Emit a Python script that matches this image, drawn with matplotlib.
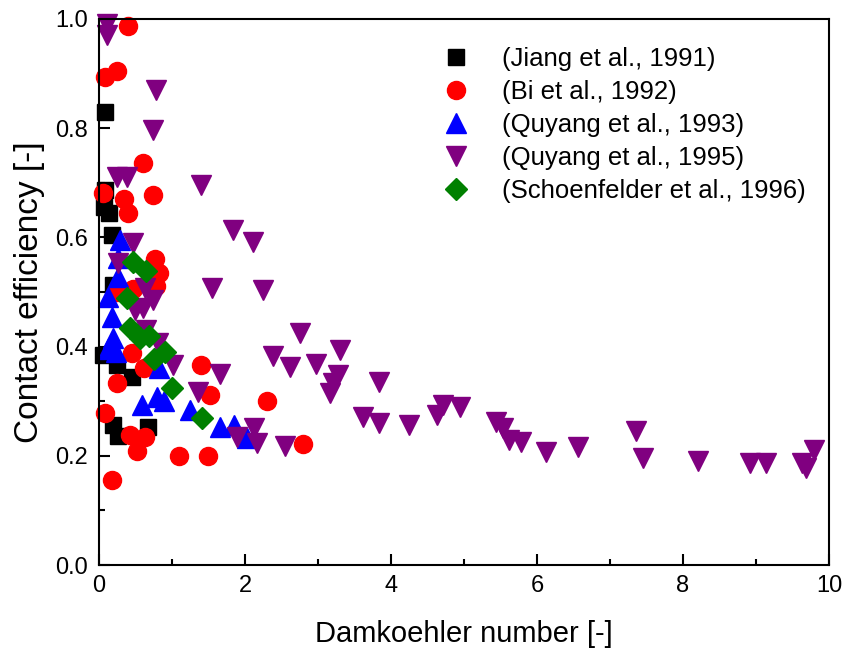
import matplotlib.pyplot as plt
from matplotlib.ticker import MultipleLocator

plt.rcParams['font.family'] = ['Liberation Sans', 'DejaVu Sans']

# Jiang et al., 1991
jiang_x = [0.08, 0.08, 0.07, 0.14, 0.18, 0.19, 0.05, 0.25, 0.45, 0.19, 0.26, 0.67]
jiang_y = [0.830, 0.687, 0.655, 0.645, 0.604, 0.513, 0.385, 0.366, 0.345, 0.256, 0.236, 0.253]

# Bi et al., 1992
bi_x = [0.40, 0.25, 0.08, 0.60, 0.06, 0.34, 0.74, 0.40, 0.77, 0.82, 0.78, 0.47, 0.25, 0.45,
        0.62, 1.40, 0.25, 1.52, 2.30, 0.08, 0.42, 0.63, 0.52, 1.10, 1.49, 2.79, 0.18]
bi_y = [0.987, 0.905, 0.893, 0.736, 0.681, 0.670, 0.677, 0.645, 0.560, 0.535, 0.510, 0.505, 0.500, 0.388,
        0.360, 0.366, 0.333, 0.311, 0.301, 0.278, 0.238, 0.234, 0.208, 0.199, 0.199, 0.222, 0.155]

# Quyang et al., 1993
q93_x = [0.29, 0.26, 0.26, 0.12, 0.18, 0.19, 0.12, 0.23, 0.82, 0.59, 0.80, 0.89, 1.25, 1.66, 1.85, 2.03]
q93_y = [0.595, 0.562, 0.527, 0.490, 0.454, 0.415, 0.395, 0.390, 0.360, 0.293, 0.308, 0.300, 0.284, 0.253, 0.256, 0.233]

# Quyang et al., 1995
q95_x = [0.11, 0.11, 0.78, 0.74, 0.24, 0.38, 1.40, 1.84, 2.11, 0.46, 0.26, 0.63, 1.55, 2.25,
         0.74, 0.60, 0.49, 0.65, 0.81, 1.01, 1.66, 2.38, 2.75, 3.30, 2.62, 2.97, 3.27, 3.20,
         3.16, 3.84, 1.36, 3.62, 3.84, 4.25, 4.63, 4.71, 4.94, 5.44, 5.53, 5.62, 5.78, 6.12,
         6.56, 7.36, 7.45, 8.21, 8.92, 9.14, 9.63, 9.68, 9.79, 1.89, 2.12, 2.17, 2.55]
q95_y = [0.990, 0.970, 0.870, 0.797, 0.710, 0.710, 0.696, 0.613, 0.592, 0.590, 0.553, 0.507, 0.507, 0.504,
         0.485, 0.470, 0.467, 0.430, 0.406, 0.366, 0.350, 0.383, 0.425, 0.394, 0.363, 0.368, 0.348, 0.333,
         0.315, 0.335, 0.317, 0.271, 0.260, 0.256, 0.275, 0.293, 0.289, 0.262, 0.251, 0.229, 0.225, 0.207,
         0.216, 0.246, 0.196, 0.190, 0.187, 0.187, 0.187, 0.178, 0.210, 0.234, 0.251, 0.223, 0.218]

# Schoenfelder et al., 1996
sch_x = [0.47, 0.65, 0.38, 0.42, 0.56, 0.68, 0.90, 0.75, 1.00, 1.41]
sch_y = [0.555, 0.538, 0.489, 0.434, 0.416, 0.420, 0.390, 0.377, 0.324, 0.269]

fig = plt.figure(figsize=(8.46, 6.48), dpi=100)
ax = fig.add_axes([0.117, 0.128, 0.863, 0.843])

ax.plot(jiang_x, jiang_y, 's', color='black', ms=11, ls='none', clip_on=False, label='(Jiang et al., 1991)')
ax.plot(bi_x, bi_y, 'o', color='red', ms=13, ls='none', clip_on=False, label='(Bi et al., 1992)')
ax.plot(q93_x, q93_y, '^', color='blue', ms=15, ls='none', clip_on=False, label='(Quyang et al., 1993)')
ax.plot(q95_x, q95_y, 'v', color='purple', ms=15, ls='none', clip_on=False, label='(Quyang et al., 1995)')
ax.plot(sch_x, sch_y, 'D', color='green', ms=11, ls='none', clip_on=False, label='(Schoenfelder et al., 1996)')

ax.set_xlim(0, 10)
ax.set_ylim(0, 1.0)
ax.xaxis.set_major_locator(MultipleLocator(2))
ax.xaxis.set_minor_locator(MultipleLocator(1))
ax.yaxis.set_major_locator(MultipleLocator(0.2))
ax.yaxis.set_minor_locator(MultipleLocator(0.1))
ax.yaxis.set_major_formatter(plt.FormatStrFormatter('%.1f'))

ax.tick_params(which='both', direction='in', top=False, right=False, labelsize=17, width=1.5)
ax.tick_params(which='major', length=8)
ax.tick_params(axis='y', which='major', pad=8)
ax.tick_params(axis='x', which='major', pad=7)
ax.tick_params(which='minor', length=4)
for s in ax.spines.values():
    s.set_linewidth(1.5)

ax.set_xlabel('Damkoehler number [-]', fontsize=21, labelpad=17)
ax.set_ylabel('Contact efficiency [-]', fontsize=24, labelpad=7)

ax.legend(loc='upper left', bbox_to_anchor=(0.429, 0.981), frameon=False, fontsize=18.5,
          handletextpad=0.8, labelspacing=0.35, borderpad=0.2)

fig.savefig('out.png', dpi=100)
